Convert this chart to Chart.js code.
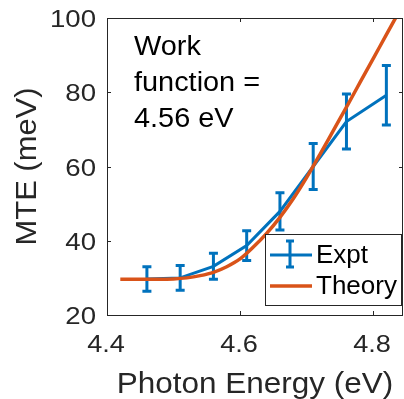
<!DOCTYPE html>
<html>
<head>
<meta charset="utf-8">
<script src="https://cdn.jsdelivr.net/npm/chart.js@4.4.0/dist/chart.umd.min.js"></script>
<style>
  html, body { margin: 0; padding: 0; background: #ffffff; }
  #wrap { width: 404px; height: 399px; position: relative; }
</style>
</head>
<body>
<div id="wrap"><canvas id="c" width="404" height="399"></canvas></div>
<script>
// ---- data ----
const exptEnergy = [4.46, 4.51, 4.56, 4.61, 4.66, 4.71, 4.76, 4.82];
const exptMTE    = [29.7, 30.0, 33.1, 38.7, 47.9, 60.0, 72.1, 79.2];
const exptErr    = [3.3, 3.3, 3.5, 4.0, 5.0, 6.2, 7.4, 8.0];

const theoryEnergy = [4.42, 4.45, 4.48, 4.50, 4.52, 4.54, 4.56, 4.58, 4.60, 4.62, 4.64, 4.66, 4.68, 4.70, 4.72, 4.74, 4.76, 4.78, 4.80, 4.82, 4.84];
const theoryMTE    = [29.6, 29.6, 29.6, 29.7, 30.0, 30.6, 31.5, 33.0, 35.1, 38.3, 42.0, 46.3, 51.3, 57.0, 63.2, 69.6, 76.0, 82.5, 89.0, 95.5, 102.0];

const xTicks = [4.4, 4.6, 4.8];
const yTicks = [20, 40, 60, 80, 100];
const xTickLabels = ['4.4', '4.6', '4.8'];
const yTickLabels = ['20', '40', '60', '80', '100'];
const seriesNames = ['Expt', 'Theory'];
const annotationLines = ['Work', 'function =', '4.56 eV'];
const xTitle = 'Photon Energy (eV)';
const yTitle = 'MTE (meV)';

const BLUE = '#0072BD';
const ORANGE = '#D95319';
const AXIS = '#262626';
const FONT = '"Liberation Sans", Arial, Helvetica, sans-serif';

function stretchedText(ctx, text, x, y, sx, align) {
  ctx.save();
  ctx.translate(x, y);
  ctx.scale(sx, 1);
  ctx.textAlign = align;
  ctx.fillText(text, 0, 0);
  ctx.restore();
}

const errorBarPlugin = {
  id: 'errorBars',
  afterDatasetDraw(chart, args) {
    if (args.index !== 0) return;
    const ctx = chart.ctx, xs = chart.scales.x, ys = chart.scales.y;
    ctx.save();
    ctx.strokeStyle = BLUE;
    ctx.lineWidth = 3;
    ctx.lineCap = 'butt';
    for (let i = 0; i < exptEnergy.length; i++) {
      const px = xs.getPixelForValue(exptEnergy[i]);
      const yt = ys.getPixelForValue(exptMTE[i] + exptErr[i]);
      const yb = ys.getPixelForValue(exptMTE[i] - exptErr[i]);
      ctx.beginPath();
      ctx.moveTo(px, yt); ctx.lineTo(px, yb);
      ctx.moveTo(px - 4.5, yt); ctx.lineTo(px + 4.5, yt);
      ctx.moveTo(px - 4.5, yb); ctx.lineTo(px + 4.5, yb);
      ctx.stroke();
    }
    ctx.restore();
  }
};

const framePlugin = {
  id: 'frame',
  afterDraw(chart) {
    const ctx = chart.ctx, xs = chart.scales.x, ys = chart.scales.y, a = chart.chartArea;
    ctx.save();
    // box
    ctx.strokeStyle = AXIS;
    ctx.lineWidth = 1;
    ctx.strokeRect(Math.round(a.left) + 0.5, Math.round(a.top) + 0.5, Math.round(a.right - a.left) - 1, Math.round(a.bottom - a.top));
    // inward ticks
    const tl = 4;
    ctx.beginPath();
    xTicks.forEach(v => {
      const p = Math.round(xs.getPixelForValue(v)) + 0.5;
      ctx.moveTo(p, a.bottom); ctx.lineTo(p, a.bottom - tl);
      ctx.moveTo(p, a.top); ctx.lineTo(p, a.top + tl);
    });
    yTicks.forEach(v => {
      const p = Math.round(ys.getPixelForValue(v)) + 0.5;
      ctx.moveTo(a.left, p); ctx.lineTo(a.left + tl, p);
      ctx.moveTo(a.right, p); ctx.lineTo(a.right - tl, p);
    });
    ctx.stroke();

    // tick labels
    ctx.fillStyle = AXIS;
    ctx.font = '24px ' + FONT;
    ctx.textBaseline = 'alphabetic';
    xTicks.forEach((v, i) => stretchedText(ctx, xTickLabels[i], xs.getPixelForValue(v) - 1, 352, 1.13, 'center'));
    yTicks.forEach((v, i) => stretchedText(ctx, yTickLabels[i], 96, ys.getPixelForValue(v) + 9, 1.15, 'right'));

    // annotation
    ctx.fillStyle = '#000000';
    ctx.font = '27px ' + FONT;
    annotationLines.forEach((t, i) => stretchedText(ctx, t, 134, 55 + i * 36, 1.07, 'left'));

    // axis titles
    ctx.fillStyle = AXIS;
    ctx.font = '30px ' + FONT;
    stretchedText(ctx, xTitle, (a.left + a.right) / 2, 393, 1.05, 'center');
    ctx.save();
    ctx.translate(36, (a.top + a.bottom) / 2);
    ctx.rotate(-Math.PI / 2);
    stretchedText(ctx, yTitle, 0, 0, 1.03, 'center');
    ctx.restore();

    // legend
    const lx = 265, ly = 234, lw = 137, lh = 72;
    ctx.fillStyle = '#ffffff';
    ctx.fillRect(lx, ly, lw, lh);
    ctx.strokeStyle = AXIS;
    ctx.lineWidth = 1;
    ctx.strokeRect(lx + 0.5, ly + 0.5, lw - 1, lh - 1);
    const y1 = 255, y2 = 286;
    ctx.strokeStyle = BLUE;
    ctx.lineWidth = 3;
    ctx.beginPath();
    ctx.moveTo(270, y1); ctx.lineTo(312, y1);
    ctx.moveTo(290, y1 - 14); ctx.lineTo(290, y1 + 12);
    ctx.moveTo(286, y1 - 14); ctx.lineTo(294, y1 - 14);
    ctx.moveTo(286, y1 + 12); ctx.lineTo(294, y1 + 12);
    ctx.stroke();
    ctx.strokeStyle = ORANGE;
    ctx.lineWidth = 3.5;
    ctx.beginPath();
    ctx.moveTo(270, y2); ctx.lineTo(312, y2);
    ctx.stroke();
    ctx.fillStyle = '#000000';
    ctx.font = '26px ' + FONT;
    ctx.textBaseline = 'middle';
    stretchedText(ctx, seriesNames[0], 316, y1 + 1, 1.0, 'left');
    stretchedText(ctx, seriesNames[1], 316, y2 + 1, 1.0, 'left');
    ctx.restore();
  }
};

new Chart(document.getElementById('c'), {
  type: 'scatter',
  data: {
    datasets: [
      {
        label: seriesNames[0],
        data: exptEnergy.map((x, i) => ({ x, y: exptMTE[i] })),
        showLine: true,
        borderColor: BLUE,
        backgroundColor: BLUE,
        borderWidth: 3,
        pointRadius: 0,
        tension: 0,
        order: 1
      },
      {
        label: seriesNames[1],
        data: theoryEnergy.map((x, i) => ({ x, y: theoryMTE[i] })),
        showLine: true,
        borderColor: ORANGE,
        backgroundColor: ORANGE,
        borderWidth: 3.5,
        pointRadius: 0,
        cubicInterpolationMode: 'monotone',
        order: 0
      }
    ]
  },
  options: {
    responsive: false,
    animation: false,
    devicePixelRatio: 1,
    layout: { padding: { top: 18, right: 1, left: 0, bottom: 0 } },
    plugins: { legend: { display: false }, tooltip: { enabled: false } },
    scales: {
      x: {
        type: 'linear',
        min: 4.4, max: 4.845,
        afterBuildTicks: s => { s.ticks = xTicks.map(v => ({ value: v })); },
        afterFit: s => { s.height = 84; },
        grid: { display: false, drawTicks: false },
        border: { display: false },
        ticks: { display: false }
      },
      y: {
        type: 'linear',
        min: 20, max: 100,
        afterBuildTicks: s => { s.ticks = yTicks.map(v => ({ value: v })); },
        afterFit: s => { s.width = 107; },
        grid: { display: false, drawTicks: false },
        border: { display: false },
        ticks: { display: false }
      }
    }
  },
  plugins: [errorBarPlugin, framePlugin]
});
</script>
</body>
</html>
